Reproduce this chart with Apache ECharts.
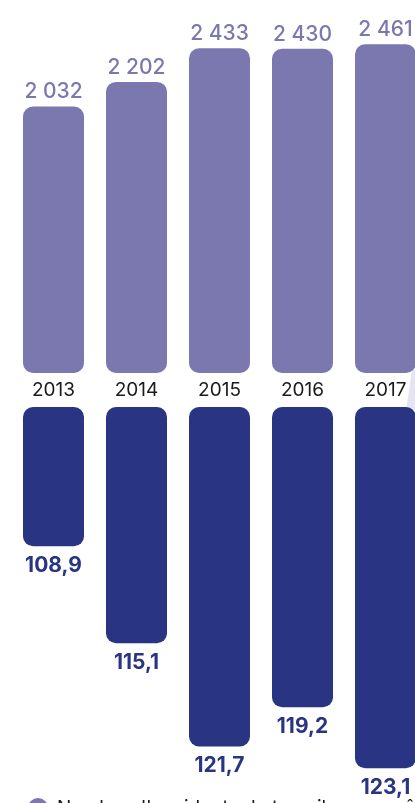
<!DOCTYPE html>
<html>
<head>
<meta charset="utf-8">
<script src="https://cdn.jsdelivr.net/npm/echarts@6/dist/echarts.min.js"></script>
<style>
  html, body { margin: 0; padding: 0; background: #ffffff; overflow: hidden; width: 415px; height: 803px; }
  #chart { width: 440px; height: 803px; }
</style>
</head>
<body>
<div id="chart"></div>
<script>
const years = ['2013', '2014', '2015', '2016', '2017'];
const accidents = [2032, 2202, 2433, 2430, 2461];
const frequency = [108.9, 115.1, 121.7, 119.2, 123.1];
const seriesNames = ["Nombre d'accidents de travail avec arrêt", "Taux de fréquence"];

const FONT = 'Inter, "Noto Sans", sans-serif';
const LIGHT = '#7B78B0';
const DARK = '#293582';

const chart = echarts.init(document.getElementById('chart'), null, { renderer: 'canvas' });

chart.setOption({
  animation: false,
  backgroundColor: '#ffffff',
  graphic: [{
    type: 'polygon',
    z: -10,
    shape: { points: [[412, 370], [420, 370], [420, 410], [406, 410]] },
    style: { fill: '#E6E4F2' }
  }],
  legend: {
    orient: 'vertical',
    left: 23,
    top: 793,
    itemWidth: 20,
    itemHeight: 20,
    itemGap: 14,
    icon: 'circle',
    data: seriesNames,
    textStyle: { fontFamily: FONT, fontSize: 19, color: '#1a1a1a', padding: [4, 0, 0, 4] }
  },
  grid: [
    { left: 12, width: 415, top: 24, height: 349, outerBoundsMode: 'none' },
    { left: 12, width: 415, top: 407, height: 391, outerBoundsMode: 'none' }
  ],
  xAxis: [
    {
      gridIndex: 0, type: 'category', data: years,
      axisLine: { show: false }, axisTick: { show: false },
      axisLabel: { margin: 8, fontFamily: FONT, fontSize: 19, color: '#1a1a1a' }
    },
    {
      gridIndex: 1, type: 'category', data: years, position: 'top',
      axisLine: { show: false }, axisTick: { show: false }, axisLabel: { show: false }
    }
  ],
  yAxis: [
    { gridIndex: 0, type: 'value', min: 200, max: 2600, show: false },
    { gridIndex: 1, type: 'value', min: 100, max: 125, inverse: true, show: false }
  ],
  series: [
    {
      name: seriesNames[0],
      type: 'bar', xAxisIndex: 0, yAxisIndex: 0,
      data: accidents,
      barWidth: 61,
      itemStyle: { color: LIGHT, borderRadius: 10 },
      label: {
        show: true, position: 'top', distance: 4,
        fontFamily: FONT, fontSize: 21, fontWeight: 500, color: LIGHT,
        formatter: p => String(p.value).replace(/\B(?=(\d{3})+(?!\d))/g, ' ')
      }
    },
    {
      name: seriesNames[1],
      type: 'bar', xAxisIndex: 1, yAxisIndex: 1,
      data: frequency,
      barWidth: 61,
      itemStyle: { color: DARK, borderRadius: 10 },
      label: {
        show: true, position: 'bottom', distance: 9,
        fontFamily: FONT, fontSize: 21, fontWeight: 'bold', color: DARK,
        formatter: p => p.value.toFixed(1).replace('.', ',')
      }
    }
  ]
});
</script>
</body>
</html>
